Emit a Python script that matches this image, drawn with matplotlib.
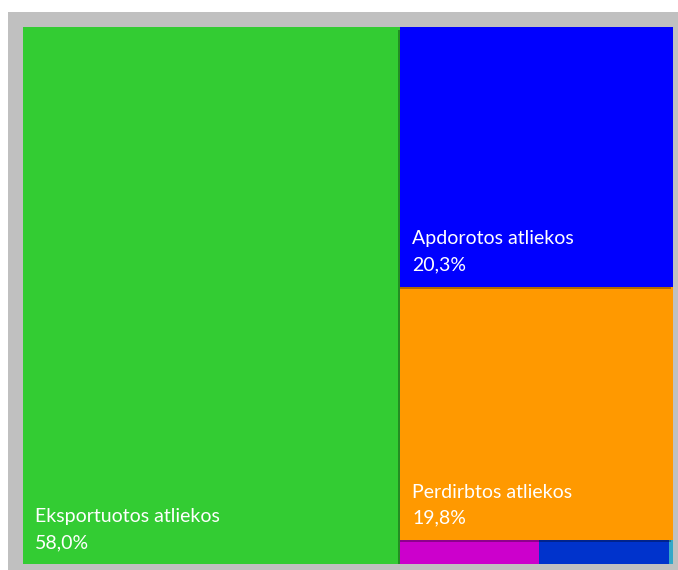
import matplotlib
matplotlib.use("Agg")
import matplotlib.pyplot as plt
import matplotlib.patheffects as pe
from matplotlib.patches import Rectangle

# --- duomenys (atliekų srautai, %) ---
kategorijos = ["Eksportuotos atliekos", "Apdorotos atliekos", "Perdirbtos atliekos",
               "Kita 1", "Kita 2", "Kita 3"]
reiksmes = [58.0, 20.3, 19.8, 0.97, 0.90, 0.03]
spalvos = ["#33CC33", "#0000FF", "#FF9900", "#CC00CC", "#0033CC", "#33A8C8"]
rodyti_zyme = [True, True, True, False, False, False]

W, H = 678, 570
fig = plt.figure(figsize=(W / 100, H / 100), dpi=100)
fig.patch.set_facecolor("white")

# pilkas fonas
fig.patches.append(Rectangle((8 / W, 0), (W - 8) / W, (H - 12) / H,
                             transform=fig.transFigure, facecolor="#C0C0C0",
                             edgecolor="none", zorder=-5))

ax = fig.add_axes([23 / W, 6 / H, 650 / W, 537 / H])
ax.set_xlim(0, 1)
ax.set_ylim(1, 0)
ax.axis("off")

total = sum(reiksmes)

# treemap: pirma kategorija - kairysis stulpelis, kitos dvi - dešinėje vertikaliai,
# likusios - apatinė juosta dešinėje horizontaliai
rects = {}
w0 = reiksmes[0] / total
rects[0] = (0, 0, w0, 1)
right_w = 1 - w0
rest = total - reiksmes[0]
y = 0
for i in (1, 2):
    h = reiksmes[i] / rest
    rects[i] = (w0, y, right_w, h)
    y += h
strip_h = 1 - y
strip_total = sum(reiksmes[3:])
x = w0
for i in (3, 4, 5):
    w = right_w * reiksmes[i] / strip_total
    rects[i] = (x, y, w, strip_h)
    x += w

shadow = [pe.SimplePatchShadow(offset=(-1.5, -2), shadow_rgbFace="black", alpha=0.3),
          pe.Normal()]

draw_order = [0, 5, 4, 3, 2, 1]
for z, i in enumerate(draw_order):
    x0, y0, w, h = rects[i]
    ax.add_patch(Rectangle((x0, y0), w, h, facecolor=spalvos[i], edgecolor="none",
                           zorder=2 + z, path_effects=shadow if i else None))

for i, (lbl, v) in enumerate(zip(kategorijos, reiksmes)):
    if not rodyti_zyme[i]:
        continue
    x0, y0, w, h = rects[i]
    txt = f"{lbl}\n{v:.1f}%".replace(".", ",")
    ax.annotate(txt, xy=(x0, y0 + h), xytext=(12, 16), textcoords="offset pixels",
                ha="left", va="baseline", color="white", fontsize=14,
                family="Lato", linespacing=1.65, zorder=20)

fig.savefig("out.png", dpi=100)
